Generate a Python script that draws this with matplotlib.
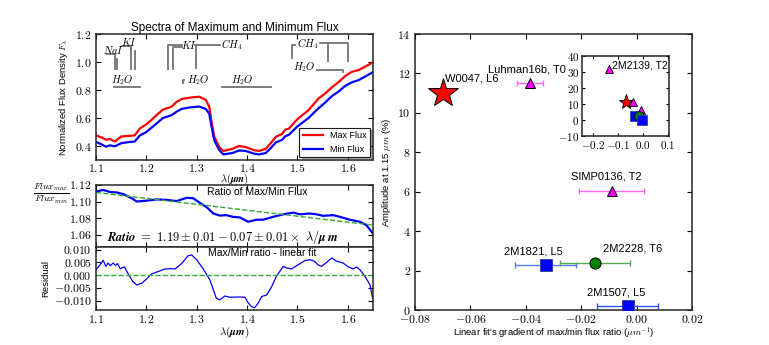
import matplotlib
matplotlib.use('Agg')
import matplotlib.pyplot as plt
import numpy as np
from matplotlib.ticker import FuncFormatter, MultipleLocator

plt.rcParams['font.family'] = ['Liberation Sans', 'DejaVu Sans']
plt.rcParams['mathtext.fontset'] = 'cm'
plt.rcParams['xtick.direction'] = 'in'
plt.rcParams['ytick.direction'] = 'in'
plt.rcParams['xtick.top'] = True
plt.rcParams['ytick.right'] = True
plt.rcParams['xtick.major.size'] = 3.5
plt.rcParams['ytick.major.size'] = 3.5
plt.rcParams['axes.linewidth'] = 1.1
plt.rcParams['axes.edgecolor'] = '0.15'

# --- spectra ---
wl_spec = [1.100, 1.112, 1.120, 1.128, 1.1375, 1.150, 1.165, 1.177, 1.187, 1.200,
           1.210, 1.220, 1.233, 1.250, 1.260, 1.270, 1.285, 1.305, 1.318, 1.325,
           1.330, 1.335, 1.345, 1.353, 1.371, 1.384, 1.397, 1.414, 1.424, 1.437,
           1.447, 1.457, 1.470, 1.476, 1.483, 1.500, 1.522, 1.542, 1.555, 1.568,
           1.582, 1.595, 1.608, 1.621, 1.634, 1.650]
max_flux = [0.476, 0.460, 0.445, 0.450, 0.432, 0.468, 0.472, 0.476, 0.525, 0.555,
            0.585, 0.620, 0.660, 0.680, 0.715, 0.735, 0.745, 0.752, 0.730, 0.680,
            0.560, 0.465, 0.390, 0.365, 0.380, 0.400, 0.393, 0.370, 0.365, 0.380,
            0.420, 0.465, 0.488, 0.517, 0.524, 0.592, 0.656, 0.740, 0.775, 0.818,
            0.858, 0.900, 0.930, 0.942, 0.966, 0.998]
min_flux = [0.430, 0.410, 0.395, 0.405, 0.398, 0.420, 0.428, 0.432, 0.475, 0.500,
            0.530, 0.560, 0.600, 0.620, 0.645, 0.665, 0.675, 0.682, 0.665, 0.630,
            0.530, 0.440, 0.370, 0.340, 0.350, 0.368, 0.365, 0.345, 0.340, 0.350,
            0.385, 0.425, 0.445, 0.470, 0.480, 0.540, 0.600, 0.670, 0.710, 0.755,
            0.790, 0.830, 0.855, 0.870, 0.895, 0.928]

# --- max/min ratio ---
wl_ratio = [1.100, 1.1145, 1.128, 1.141, 1.154, 1.171, 1.181, 1.200, 1.220, 1.240,
            1.260, 1.280, 1.293, 1.306, 1.320, 1.333, 1.346, 1.359, 1.372, 1.386,
            1.402, 1.419, 1.432, 1.452, 1.472, 1.492, 1.505, 1.525, 1.538, 1.551,
            1.571, 1.584, 1.604, 1.624, 1.637, 1.650]
ratio = [1.112, 1.114, 1.1115, 1.111, 1.109, 1.104, 1.100, 1.101, 1.1025, 1.102,
         1.1005, 1.1045, 1.104, 1.0985, 1.093, 1.0855, 1.083, 1.0835, 1.0815, 1.0807,
         1.0755, 1.078, 1.078, 1.0815, 1.0845, 1.0866, 1.0845, 1.0855, 1.0845, 1.0827,
         1.0835, 1.0815, 1.078, 1.0755, 1.0715, 1.0612]
fit_wl = [1.10, 1.65]
fit_ratio = [1.111, 1.0715]

# --- residual ---
wl_resid = [1.100, 1.108, 1.1145, 1.1195, 1.124, 1.1285, 1.134, 1.139, 1.143, 1.148,
            1.1565, 1.163, 1.173, 1.181, 1.191, 1.200, 1.210, 1.224, 1.237, 1.247,
            1.257, 1.270, 1.283, 1.290, 1.300, 1.313, 1.326, 1.339, 1.346, 1.356,
            1.366, 1.386, 1.396, 1.402, 1.409, 1.415, 1.422, 1.429, 1.439, 1.449,
            1.458, 1.472, 1.478, 1.488, 1.501, 1.515, 1.525, 1.534, 1.541, 1.548,
            1.558, 1.568, 1.578, 1.591, 1.601, 1.611, 1.617, 1.624, 1.634, 1.644,
            1.650]
resid = [0.0021, 0.0040, 0.0058, 0.0034, 0.0047, 0.0037, 0.0047, 0.0038, 0.0045, 0.0025,
         0.0032, 0.0008, -0.0025, -0.0039, -0.0032, -0.0016, 0.0004, 0.0014, 0.0024, 0.0025,
         0.0024, 0.0045, 0.0076, 0.0079, 0.0060, 0.0024, -0.0018, -0.0091, -0.0097, -0.0082,
         -0.0087, -0.0086, -0.0087, -0.0108, -0.0124, -0.0128, -0.0110, -0.0084, -0.0078, -0.0045,
         -0.0005, 0.0034, 0.0028, 0.0024, 0.0040, 0.0057, 0.0060, 0.0054, 0.0040, 0.0034,
         0.0050, 0.0067, 0.0054, 0.0047, 0.0032, 0.0024, 0.0032, 0.0021, -0.0005, -0.0038,
         -0.0097]

# --- amplitude vs gradient ---
objects = ['W0047, L6', 'Luhman16b, T0', 'SIMP0136, T2', '2M1821, L5', '2M2228, T6', '2M1507, L5']
gradient = [-0.070, -0.0385, -0.0090, -0.0328, -0.0150, -0.0032]
gradient_err = [0.0, 0.0047, 0.0117, 0.0110, 0.0125, 0.0110]
amplitude = [11.0, 11.5, 6.05, 2.28, 2.40, 0.20]
inset_object = '2M2139, T2'
inset_gradient = -0.136
inset_amplitude = 31.8

markers = ['*', '^', '^', 's', 'o', 's']
face = ['red', 'magenta', 'magenta', 'blue', 'green', 'blue']
edge = ['black', 'black', 'black', '#3344aa', 'black', '#3344aa']
err_col = ['red', '#ff66ff', '#ff66ff', '#5577ff', '#55aa55', '#3355ff']
msize = [22, 7, 7, 8, 8, 8]
inset_msize = [11, 6, 6, 7, 7, 7]
label_pos = [(-0.0692, 11.5, 'left'), (-0.0395, 11.95, 'center'), (-0.0109, 6.5, 'center'),
             (-0.0371, 2.72, 'center'), (-0.0015, 2.86, 'center'), (-0.0075, 0.62, 'center')]


def bold_fmt(fmt):
    return FuncFormatter(lambda v, p: r'$\mathbf{' + (fmt % v) + '}$')


fig = plt.figure(figsize=(7.69, 3.45), dpi=100)
ax1 = fig.add_axes([0.1248, 0.5362, 0.3602, 0.3652])
ax2 = fig.add_axes([0.1248, 0.2841, 0.3602, 0.1797])
ax3 = fig.add_axes([0.1248, 0.1014, 0.3602, 0.1826])
ax4 = fig.add_axes([0.5397, 0.1014, 0.3602, 0.8])
ax5 = fig.add_axes([0.7572, 0.6058, 0.1127, 0.2319])

for a in (ax1, ax2, ax3, ax4):
    a.tick_params(labelsize=8.5, pad=3)
ax1.tick_params(axis='x', pad=2)
ax5.tick_params(labelsize=8, length=2.5, pad=2)

# spectra
ax1.plot(wl_spec, max_flux, color='red', lw=1.6, label='Max Flux')
ax1.plot(wl_spec, min_flux, color='blue', lw=1.6, label='Min Flux')
ax1.set_xlim(1.1, 1.65)
ax1.set_ylim(0.3, 1.2)
ax1.yaxis.set_major_locator(MultipleLocator(0.2))
ax1.xaxis.set_major_locator(MultipleLocator(0.1))
ax1.xaxis.set_major_formatter(bold_fmt('%.1f'))
ax1.yaxis.set_major_formatter(bold_fmt('%.1f'))
ax1.set_title('Spectra of Maximum and Minimum Flux', fontsize=8.5, pad=2)
ax1.set_ylabel(r'Normalized Flux Density $F_\lambda$', fontsize=6.8)
ax1.yaxis.set_label_coords(-0.095, 0.5)
ax1.set_xlabel(r'$\boldsymbol{\lambda(\mu m)}$', fontsize=7.5)
ax1.xaxis.set_label_coords(0.5, -0.095)
leg = ax1.legend(loc='lower right', fontsize=6.5, shadow=True, fancybox=False,
                 borderaxespad=0.3, handlelength=2.2, edgecolor='0.1')
leg.get_frame().set_linewidth(0.8)

# absorption feature markers
g = dict(color='0.45', lw=1.3)
ax1.plot([1.1224, 1.1377, 1.1377], [1.057, 1.057, 0.947], **g)
ax1.plot([1.1417, 1.1417], [1.02, 0.947], **g)
ax1.plot([1.151, 1.169, 1.169], [1.116, 1.116, 0.947], **g)
ax1.plot([1.1775, 1.1775], [1.08, 0.947], **g)
ax1.plot([1.2714, 1.2436, 1.2436], [1.121, 1.121, 0.947], **g)
ax1.plot([1.2714, 1.2523, 1.2523], [1.105, 1.105, 0.947], **g)
ax1.plot([1.297, 1.346], [1.118, 1.118], **g)
ax1.plot([1.2995, 1.2995], [1.118, 0.954], **g)
ax1.plot([1.2755, 1.2725, 1.2725], [0.868, 0.868, 0.847], **g)
ax1.plot([1.135, 1.187], [0.818, 0.818], **g)
ax1.plot([1.351, 1.447], [0.818, 0.818], **g)
ax1.plot([1.495, 1.490, 1.490], [1.121, 1.121, 1.026], **g)
ax1.plot([1.545, 1.601, 1.601], [1.138, 1.138, 1.009], **g)
ax1.plot([1.561, 1.561], [1.138, 1.009], **g)
ax1.plot([1.538, 1.591, 1.591], [0.942, 0.942, 0.93], **g)
tk = dict(fontsize=7.5, ha='center', va='center')
ax1.text(1.135, 1.085, r'$NaI$', **tk)
ax1.text(1.166, 1.14, r'$KI$', **tk)
ax1.text(1.284, 1.12, r'$KI$', **tk)
ax1.text(1.370, 1.121, r'$CH_4$', **tk)
ax1.text(1.521, 1.128, r'$CH_4$', **tk)
ax1.text(1.152, 0.87, r'$H_2O$', **tk)
ax1.text(1.303, 0.87, r'$H_2O$', **tk)
ax1.text(1.390, 0.87, r'$H_2O$', **tk)
ax1.text(1.513, 0.961, r'$H_2O$', **tk)

# ratio
ax2.plot(wl_ratio, ratio, color='blue', lw=1.6)
ax2.plot(fit_wl, fit_ratio, '--', color='#33aa33', lw=1.0)
ax2.set_xlim(1.1, 1.65)
ax2.set_ylim(1.045, 1.12)
ax2.yaxis.set_major_locator(MultipleLocator(0.02))
ax2.xaxis.set_major_locator(MultipleLocator(0.1))
ax2.yaxis.set_major_formatter(bold_fmt('%.2f'))
ax2.set_xticklabels([])
ax2.text(0.584, 0.97, 'Ratio of Max/Min Flux', transform=ax2.transAxes,
         fontsize=7.5, ha='center', va='top')
ax2.text(0.458, 0.16,
         r'$\boldsymbol{Ratio}\ \mathbf{=\ 1.19 \pm 0.01 - 0.07 \pm 0.01 \times}\ \boldsymbol{\lambda/\mu\, m}$',
         transform=ax2.transAxes, fontsize=9, ha='center', va='center')
ax2.set_ylabel(r'$\boldsymbol{\frac{Flux_{max}}{Flux_{min}}}$', fontsize=10, rotation=0,
               ha='center', va='center')
ax2.yaxis.set_label_coords(-0.16, 0.85)

# residual
ax3.plot(wl_resid, resid, color='blue', lw=0.9)
ax3.plot(fit_wl, [0, 0], '--', color='#33aa33', lw=1.0)
ax3.set_xlim(1.1, 1.65)
ax3.set_ylim(-0.0137, 0.011)
ax3.yaxis.set_major_locator(MultipleLocator(0.005))
ax3.xaxis.set_major_locator(MultipleLocator(0.1))
ax3.yaxis.set_major_formatter(bold_fmt('%.3f'))
ax3.xaxis.set_major_formatter(bold_fmt('%.1f'))
ax3.text(0.6, 0.98, 'Max/Min ratio - linear fit', transform=ax3.transAxes,
         fontsize=7.5, ha='center', va='top')
ax3.set_ylabel('Residual', fontsize=6.8)
ax3.yaxis.set_label_coords(-0.164, 0.5)
ax3.set_xlabel(r'$\boldsymbol{\lambda(\mu m)}$', fontsize=8)
ax3.xaxis.set_label_coords(0.5, -0.24)

# amplitude vs gradient
for i in range(len(objects)):
    if gradient_err[i] > 0:
        ax4.errorbar(gradient[i], amplitude[i], xerr=gradient_err[i], fmt='none',
                     ecolor=err_col[i], elinewidth=1.0, capsize=2.5, zorder=2)
    ax4.plot(gradient[i], amplitude[i], marker=markers[i], ms=msize[i], color=face[i],
             mec=edge[i], mew=0.7, ls='none', zorder=3)
    lx, ly, ha = label_pos[i]
    ax4.text(lx, ly, objects[i], fontsize=8, ha=ha, va='bottom')
ax4.set_xlim(-0.08, 0.02)
ax4.set_ylim(0, 14)
ax4.xaxis.set_major_locator(MultipleLocator(0.02))
ax4.yaxis.set_major_locator(MultipleLocator(2))
ax4.xaxis.set_major_formatter(bold_fmt('%.2f'))
ax4.yaxis.set_major_formatter(bold_fmt('%d'))
ax4.set_xlabel(r"Linear fit's gradient of max/min flux ratio ($\mu m^{-1}$)", fontsize=6.8)
ax4.xaxis.set_label_coords(0.5, -0.055)
ax4.set_ylabel(r'Amplitude at 1.15 $\mu m$ (%)', fontsize=6.8)
ax4.yaxis.set_label_coords(-0.08, 0.5)

# inset
for i in range(len(objects)):
    ax5.plot(gradient[i], amplitude[i], marker=markers[i], ms=inset_msize[i], color=face[i],
             mec=edge[i], mew=0.6, ls='none')
ax5.plot(inset_gradient, inset_amplitude, marker='^', ms=6, color='magenta', mec='black',
         mew=0.6, ls='none')
ax5.text(inset_gradient + 0.01, inset_amplitude + 2.5, inset_object, fontsize=7.5,
         ha='left', va='center')
ax5.set_xlim(-0.245, 0.105)
ax5.set_ylim(-10, 40)
ax5.xaxis.set_major_locator(MultipleLocator(0.1))
ax5.yaxis.set_major_locator(MultipleLocator(10))
ax5.xaxis.set_major_formatter(bold_fmt('%.1f'))
ax5.yaxis.set_major_formatter(bold_fmt('%d'))

fig.savefig('out.png', dpi=100)
